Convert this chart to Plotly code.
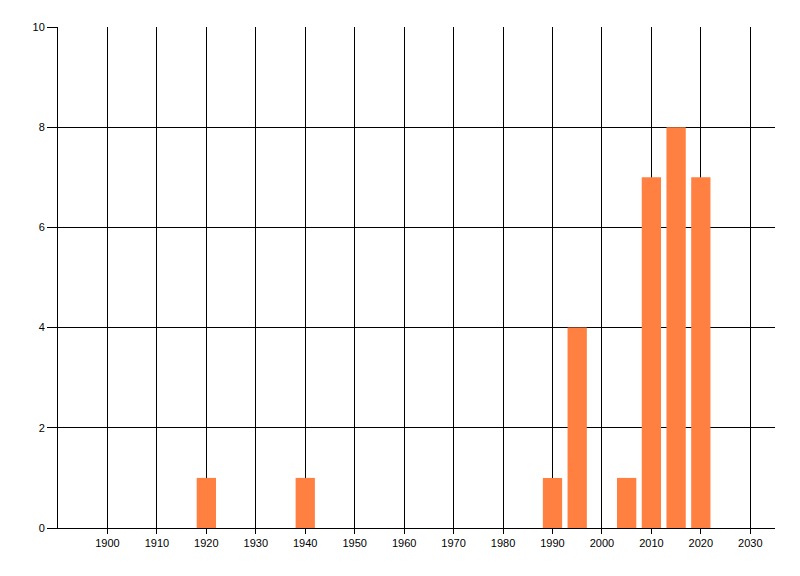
import plotly.graph_objects as go

years = [1920, 1940, 1990, 1995, 2005, 2010, 2015, 2020]
counts = [1, 1, 1, 4, 1, 7, 8, 7]
x_ticks = list(range(1900, 2031, 10))
y_ticks = [0, 2, 4, 6, 8, 10]

fig = go.Figure(go.Bar(x=years, y=counts, width=3.9, marker=dict(color="#FF8040", line=dict(width=0))))

fig.update_layout(
    width=792, height=568,
    margin=dict(l=50, r=25, t=19, b=48),
    plot_bgcolor="white", paper_bgcolor="white",
    showlegend=False,
    font=dict(family="Liberation Sans", size=11, color="black"),
)
fig.update_xaxes(
    range=[1890, 2035], tickvals=x_ticks, ticktext=[str(v) for v in x_ticks],
    showgrid=True, gridcolor="black", gridwidth=1,
    showline=True, linecolor="black", linewidth=1,
    ticks="outside", ticklen=5, tickcolor="black", zeroline=False,
)
fig.update_yaxes(
    range=[0, 10], tickvals=y_ticks,
    showgrid=True, gridcolor="black", gridwidth=1,
    showline=True, linecolor="black", linewidth=1,
    ticks="outside", ticklen=10, tickcolor="black", zeroline=False,
)

fig.write_html("out.html")
